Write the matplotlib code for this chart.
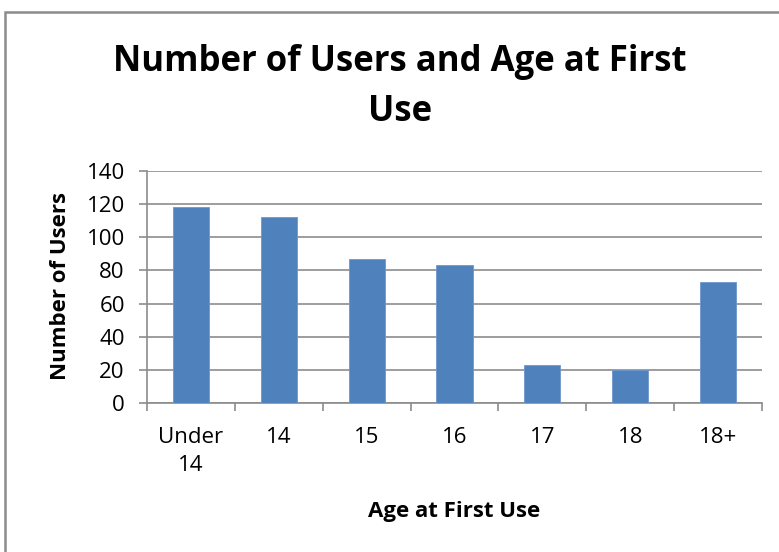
import matplotlib
matplotlib.use("Agg")
import matplotlib.pyplot as plt
from matplotlib.patches import Rectangle

# chart data
ages = ["Under\n14", "14", "15", "16", "17", "18", "18+"]
users = [118, 112, 87, 83, 23, 20, 73]
y_ticks = [0, 20, 40, 60, 80, 100, 120, 140]

plt.rcParams['font.family'] = ['Open Sans', 'DejaVu Sans']

W, H = 779, 552
fig = plt.figure(figsize=(W / 100, H / 100), dpi=100)

# chart-area border (top and left visible, runs off the right/bottom)
fig.patches.append(Rectangle((5 / W, -0.1), 1.2, (H - 12) / H + 0.1,
                             transform=fig.transFigure, fill=False,
                             edgecolor="#8c8c8c", linewidth=1.8))

ax = fig.add_axes([147 / W, (H - 403) / H, (762 - 147) / W, (403 - 171) / H])

x = range(len(ages))
ax.bar(x, users, width=0.41, color="#4f81bd", edgecolor="#6d97cc", linewidth=0.6, zorder=3)

ax.set_xlim(-0.5, len(ages) - 0.5)
ax.set_ylim(0, 140)
ax.set_yticks(y_ticks)
ax.set_yticklabels([str(v) for v in y_ticks], fontsize=16)
ax.grid(axis="y", color="#8c8c8c", linewidth=1.2, zorder=0)

# category labels between boundary tick marks
ax.set_xticks([i - 0.5 for i in range(len(ages) + 1)], minor=False)
ax.set_xticklabels([])
ax.set_xticks(list(x), minor=True)
ax.set_xticklabels(ages, minor=True, fontsize=16, linespacing=1.45)
ax.tick_params(axis="x", which="minor", length=0, pad=17)
ax.tick_params(axis="x", which="major", length=6, color="#8c8c8c", width=1.2, direction="out")
ax.tick_params(axis="y", length=6, color="#8c8c8c", width=1.2, pad=10)

for side in ["top", "right"]:
    ax.spines[side].set_visible(False)
for side in ["left", "bottom"]:
    ax.spines[side].set_color("#8c8c8c")
    ax.spines[side].set_linewidth(1.2)

fig.text(400 / W, 1 - 87 / H, "Number of Users and Age at First\nUse", ha="center", va="center",
         fontsize=25, fontweight="bold", linespacing=1.5)
fig.text(60 / W, 1 - 286 / H, "Number of Users", rotation=90, ha="center", va="center",
         fontsize=16, fontweight="bold")
fig.text(454 / W, 1 - 511 / H, "Age at First Use", ha="center", va="center",
         fontsize=16, fontweight="bold")

fig.savefig("out.png", dpi=100)
